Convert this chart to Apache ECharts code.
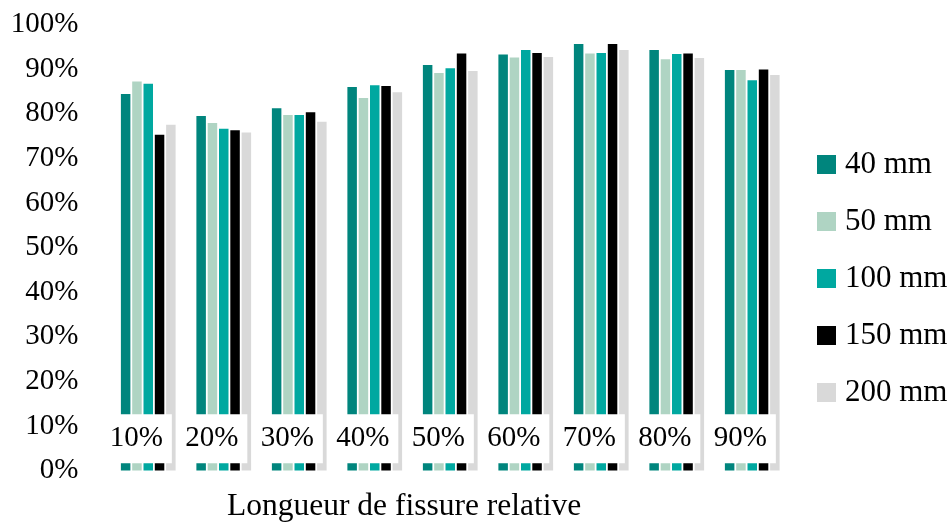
<!DOCTYPE html>
<html>
<head>
<meta charset="utf-8">
<script src="https://cdn.jsdelivr.net/npm/echarts@6/dist/echarts.min.js"></script>
<style>
  html, body { margin: 0; padding: 0; background: #fff; }
  #chart { width: 950px; height: 525px; }
</style>
</head>
<body>
<div id="chart"></div>
<script>
// Relative crack length categories
const categories = ['10%', '20%', '30%', '40%', '50%', '60%', '70%', '80%', '90%'];

// Values (%) per specimen width
const s40  = [84.4, 79.5, 81.2, 86.0, 90.9, 93.3, 95.6, 94.3, 89.8];
const s50  = [87.2, 77.9, 79.7, 83.5, 89.1, 92.6, 93.5, 92.2, 89.8];
const s100 = [86.7, 76.6, 79.7, 86.4, 90.2, 94.3, 93.6, 93.4, 87.5];
const s150 = [75.3, 76.3, 80.3, 86.2, 93.5, 93.6, 95.6, 93.5, 89.9];
const s200 = [77.5, 75.8, 78.2, 84.8, 89.6, 92.7, 94.3, 92.5, 88.7];

const seriesNames = ['40 mm', '50 mm', '100 mm', '150 mm', '200 mm'];
const yTicks = [0, 10, 20, 30, 40, 50, 60, 70, 80, 90, 100];

const seriesData = [s40, s50, s100, s150, s200];
const colors = ['#00857d', '#afd4c3', '#00a8a0', '#000000', '#d9d9d9'];
const FONT = '"Liberation Serif", "DejaVu Serif", serif';
const FS = 29;
const FS_WORDS = 31;
// height at which the category tags sit inside the plot
const TAG_LEVEL = 7.13;

const chart = echarts.init(document.getElementById('chart'), null, { renderer: 'canvas' });

const barSeries = seriesNames.map((name, i) => ({
  name: name,
  type: 'bar',
  data: seriesData[i],
  barWidth: 9.5,
  barGap: '19%',
  z: 2,
  itemStyle: { color: colors[i] }
}));

// white tags carrying the category names, drawn above the bars
const tagSeries = {
  name: 'tags',
  type: 'scatter',
  data: categories.map(() => TAG_LEVEL),
  symbolSize: 1,
  itemStyle: { color: '#fff', opacity: 1 },
  silent: true,
  zlevel: 1,
  z: 10,
  emphasis: { disabled: true },
  label: {
    show: true,
    position: 'inside',
    offset: [-12, 0],
    formatter: (p) => categories[p.dataIndex],
    fontFamily: FONT,
    fontSize: FS,
    lineHeight: 28,
    color: '#000',
    opacity: 1,
    backgroundColor: '#fff',
    padding: [12, 9, 9, 9]
  }
};

chart.setOption({
  animation: false,
  backgroundColor: '#fff',
  textStyle: { fontFamily: FONT },
  title: {
    text: 'Longueur de fissure relative',
    left: 227,
    top: 491,
    padding: 0,
    textStyle: { fontFamily: FONT, fontSize: 31.5, fontWeight: 'normal', color: '#000' }
  },
  legend: {
    data: seriesNames,
    orient: 'vertical',
    left: 817,
    top: 149,
    padding: 0,
    itemWidth: 19,
    itemHeight: 19,
    itemGap: 26,
    icon: 'rect',
    selectedMode: false,
    textStyle: { fontFamily: FONT, fontSize: FS_WORDS, color: '#000', padding: [0, 0, 0, 4] }
  },
  grid: { left: 110.5, right: 160, top: 24.5, bottom: 54.5 },
  xAxis: {
    type: 'category',
    data: categories,
    boundaryGap: true,
    axisLine: { show: false },
    axisTick: { show: false },
    axisLabel: { show: false },
    splitLine: { show: false }
  },
  yAxis: {
    type: 'value',
    min: yTicks[0],
    max: yTicks[yTicks.length - 1],
    interval: yTicks[1] - yTicks[0],
    axisLine: { show: false },
    axisTick: { show: false },
    splitLine: { show: false },
    axisLabel: {
      formatter: '{value}%',
      fontFamily: FONT,
      fontSize: FS,
      color: '#000',
      margin: 32,
      padding: [5, 0, 0, 0]
    }
  },
  series: barSeries.concat([tagSeries])
});
</script>
</body>
</html>
